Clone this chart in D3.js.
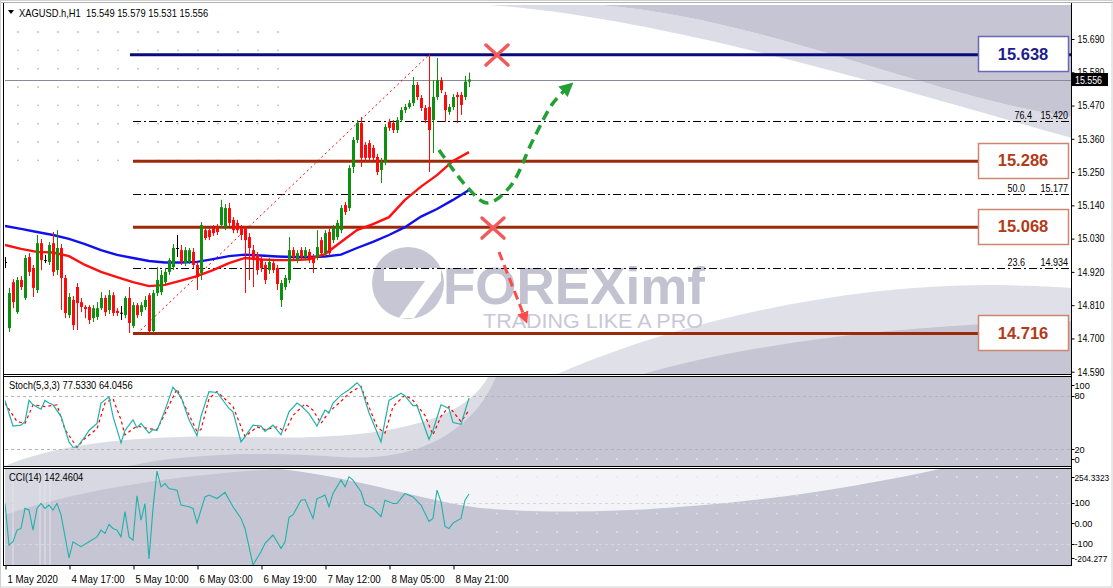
<!DOCTYPE html>
<html><head><meta charset="utf-8">
<script src="https://cdn.jsdelivr.net/npm/d3@7"></script>
<style>body{margin:0;background:#fff;}svg{display:block;font-family:"Liberation Sans",Arial,sans-serif;}</style>
</head><body><svg id="c" width="1113" height="588"></svg>
<script>
// ---------- DATA ----------
const symbolTitle = "XAGUSD.h,H1  15.549 15.579 15.531 15.556";
const barOpen = [14.953,14.734,14.886,14.787,14.893,14.834,14.969,14.933,14.860,15.015,
14.959,14.953,15.015,14.926,14.999,14.900,14.777,14.827,14.870,14.820,
14.804,14.804,14.767,14.771,14.800,14.834,14.794,14.843,14.791,14.784,
14.777,14.834,14.741,14.810,14.787,14.804,14.843,14.724,14.850,14.853,
14.886,14.920,14.936,14.999,14.992,14.949,14.953,14.986,14.943,14.916,
15.058,15.058,15.065,15.068,15.075,15.068,15.131,15.092,15.082,15.065,
15.065,15.035,14.992,14.976,14.959,14.943,14.926,14.949,14.933,14.827,
14.870,14.893,14.992,14.959,14.992,14.969,14.986,14.969,14.969,15.025,
14.982,15.052,15.025,15.035,15.058,15.141,15.131,15.267,15.356,15.412,
15.340,15.346,15.330,15.300,15.257,15.283,15.416,15.412,15.389,15.422,
15.455,15.465,15.478,15.538,15.495,15.462,15.465,15.422,15.498,15.554,
15.505,15.449,15.465,15.505,15.505,15.498,15.549];
const barHigh = [14.969,14.867,14.896,14.903,14.906,14.976,14.982,14.943,15.042,15.029,
14.976,15.019,15.052,15.058,15.012,14.910,14.850,14.840,14.883,14.834,
14.810,14.810,14.810,14.820,14.853,14.843,14.860,14.853,14.800,14.807,
14.840,14.870,14.820,14.817,14.820,14.840,14.850,14.860,14.936,14.926,
14.933,14.966,15.012,15.042,15.009,15.002,14.999,14.999,14.953,15.085,
15.072,15.065,15.075,15.078,15.158,15.144,15.148,15.101,15.092,15.075,
15.072,15.048,15.009,14.986,14.972,14.953,14.966,14.959,14.943,14.893,
14.910,15.035,15.002,14.992,15.002,15.002,14.996,14.979,15.058,15.035,
15.058,15.062,15.075,15.092,15.141,15.151,15.273,15.366,15.422,15.432,
15.349,15.356,15.340,15.310,15.297,15.409,15.426,15.422,15.432,15.465,
15.475,15.488,15.564,15.548,15.505,15.472,15.638,15.554,15.627,15.564,
15.515,15.475,15.508,15.515,15.515,15.568,15.579];
const barLow = [14.933,14.721,14.800,14.781,14.860,14.827,14.906,14.837,14.850,14.926,
14.949,14.943,14.906,14.910,14.794,14.767,14.767,14.728,14.728,14.787,
14.767,14.748,14.754,14.761,14.794,14.774,14.781,14.774,14.774,14.761,
14.767,14.718,14.734,14.767,14.774,14.794,14.716,14.718,14.840,14.843,
14.880,14.910,14.926,14.969,14.943,14.939,14.946,14.933,14.860,14.893,
15.025,15.025,15.039,15.042,15.065,15.058,15.072,15.048,15.048,15.025,
14.850,14.893,14.870,14.910,14.920,14.880,14.913,14.916,14.860,14.804,
14.860,14.883,14.959,14.949,14.959,14.959,14.949,14.916,14.959,14.972,
14.972,14.972,15.015,15.025,15.048,15.108,15.121,15.247,15.346,15.267,
15.283,15.283,15.287,15.240,15.214,15.273,15.386,15.379,15.379,15.416,
15.445,15.459,15.468,15.488,15.452,15.412,15.250,15.313,15.488,15.511,
15.416,15.439,15.455,15.412,15.439,15.488,15.531];
const barClose = [14.953,14.850,14.820,14.893,14.870,14.966,14.920,14.867,15.015,14.959,
14.958,15.009,14.920,14.999,14.900,14.784,14.837,14.744,14.817,14.804,
14.797,14.761,14.800,14.800,14.834,14.787,14.843,14.784,14.784,14.785,
14.834,14.751,14.810,14.777,14.810,14.827,14.724,14.850,14.893,14.910,
14.920,14.959,14.999,14.998,14.953,14.992,14.992,14.943,14.903,15.075,
15.032,15.035,15.048,15.052,15.134,15.131,15.082,15.058,15.058,15.042,
15.025,14.999,14.959,14.926,14.933,14.893,14.953,14.926,14.880,14.883,
14.900,14.992,14.969,14.982,14.969,14.992,14.959,14.949,15.002,14.982,
15.048,14.982,15.065,15.082,15.131,15.118,15.263,15.356,15.412,15.297,
15.297,15.297,15.297,15.250,15.283,15.399,15.396,15.389,15.422,15.455,
15.465,15.478,15.538,15.498,15.462,15.422,15.389,15.498,15.554,15.521,
15.455,15.465,15.498,15.498,15.472,15.549,15.556];

const maIdx = [0,4,8,12,16,20,24,28,32,36,40,44,48,52,56,60,64,68,72,76,80,84,88,92,96,100,104,108,112,116];
const maFast = [15.009,14.996,14.986,14.984,14.972,14.943,14.920,14.903,14.886,14.873,14.877,14.891,14.906,14.926,14.949,14.966,14.961,14.959,14.959,14.962,14.979,15.019,15.058,15.078,15.101,15.158,15.202,15.240,15.287,15.316];
const maSlow = [15.072,15.062,15.052,15.042,15.029,15.012,14.992,14.976,14.966,14.956,14.951,14.951,14.953,14.962,14.972,14.977,14.974,14.971,14.969,14.969,14.971,14.977,14.999,15.019,15.042,15.068,15.103,15.128,15.158,15.191];

const stochKIdx = [0,2,4,5,6,7,9,10,11,12,14,16,17,18,20,21,23,24,26,27,29,30,32,33,34,36,37,38,40,42,44,46,48,49,51,53,56,57,59,60,62,64,65,67,69,71,73,74,76,78,80,81,82,84,86,88,89,91,94,96,99,100,102,103,106,107,109,111,112,114,116];
const stochK = [75,46,47,51,75,70,65,75,72,70,57,28,22,22,34,41,49,72,79,57,27,41,53,44,49,38,42,41,64,90,79,53,35,57,85,84,66,62,28,34,47,46,40,47,36,62,72,69,60,46,64,61,72,81,87,95,90,61,28,75,83,80,69,69,31,41,70,66,50,48,77.533];
const stochDIdx = [0,3,5,7,10,13,15,18,20,23,25,27,29,30,33,36,38,40,43,45,48,49,51,53,57,60,63,65,68,70,72,75,77,79,81,84,86,89,90,93,95,97,100,102,105,107,109,111,114,116];
const stochD = [72,51,49,70,68,70,42,22,32,43,72,77,53,36,46,43,42,60,88,68,40,42,77,85,68,34,45,42,45,40,58,71,64,49,62,74,83,91,79,45,38,68,81,75,58,36,57,68,51,64.046];
const stochLevels = [80,20];
const stochTicks = [100,80,20,0];

const cciIdx = [0,1,2,3,4,5,6,7,8,9,10,11,12,13,14,16,17,19,21,23,24,25,26,27,28,29,30,31,32,33,34,35,36,37,38,39,40,41,43,44,46,47,48,50,51,53,55,57,59,60,62,64,65,67,69,70,71,72,74,75,77,78,79,80,81,82,84,85,86,87,89,90,92,94,95,97,98,100,102,104,106,107,108,109,110,111,112,114,115,116];
const cciVal = [96,-107,-91,-34,-26,72,64,-34,72,96,72,88,64,96,40,-170,-91,-115,-91,-67,-34,-50,-6,-26,-34,-67,56,-67,-83,133,15,96,-175,72,254,177,193,169,161,88,80,72,0,128,137,120,150,80,23,-26,-204,-140,-99,-58,-123,-91,28,40,112,115,23,120,128,137,80,145,210,177,226,210,153,92,72,32,112,96,96,145,128,88,8,23,161,104,-16,-26,0,23,112,142.46];
const cciLevels = [100,-100];
const cciTicks = [254.3323,100,0,-100,-204.277];
const cciTickLabels = ["254.3323","100","0.00","-100","-204.277"];

const priceTicks = [15.690,15.580,15.470,15.360,15.250,15.140,15.030,14.920,14.810,14.700,14.590];
const timeTickIdx = [0,16,32,48,64,80,96,112];
const timeLabels = ["1 May 2020","4 May 17:00","5 May 10:00","6 May 03:00","6 May 19:00","7 May 12:00","8 May 05:00","8 May 21:00"];

const currentPrice = 15.556;
const resistHigh = 15.638;
const levelLines = [15.286, 15.068, 14.716];
const fibLow = 14.716, fibHigh = 15.638;
const fibRatios = [76.4, 50.0, 23.6];
const fibLabels = ["15.420","15.177","14.934"];
const fibStartIdx = 33, fibEndIdx = 106, lineStartIdx = 32;
// annotations (bar index, price)
const greenPathIdx = [108.5,115.5,120.5,126.2,132,137,140.8];
const greenPathPx = [15.323,15.201,15.148,15.201,15.356,15.478,15.531];
const redArrowIdx = [123.5,130];
const redArrowPx = [14.986,14.767];
const crossIdx = [123,122];
const crossPx = [15.637,15.065];

// ---------- LAYOUT ----------
const svg = d3.select('#c');
const L = 5, R = 1071;
const P = {main:[5,374], st:[377,466], cci:[469,565]};
const x = d3.scaleLinear().domain([0,116]).range([5,469]);
const y = d3.scaleLinear().domain([14.590,15.690]).range([371.7,39]);
const yS = d3.scaleLinear().domain([0,100]).range([466.7,378.3]);
const yC = d3.scaleLinear().domain([-204.277,254.3323]).range([565,471]);

function condense(sel,f){sel.each(function(){const w=this.getComputedTextLength();if(w>0){d3.select(this).attr('textLength',w*f).attr('lengthAdjust','spacingAndGlyphs');}});}

const defs = svg.append('defs');
function clip(id,y0,y1){defs.append('clipPath').attr('id',id).append('rect').attr('x',L).attr('y',y0).attr('width',R-L).attr('height',y1-y0);}
clip('cm',P.main[0],P.main[1]); clip('cs',P.st[0],P.st[1]); clip('cc',P.cci[0],P.cci[1]);
function mk(id,color){defs.append('marker').attr('id',id).attr('viewBox','0 0 10 10').attr('refX',5).attr('refY',5)
 .attr('markerWidth',4).attr('markerHeight',4).attr('orient','auto').attr('markerUnits','strokeWidth')
 .append('path').attr('d','M0,0 L10,5 L0,10 Z').attr('fill',color);}
mk('ag','#22a033'); mk('ar','#ff4a4a');

// ---------- BACKGROUNDS ----------
const gMainBg = svg.append('g').attr('clip-path','url(#cm)');
gMainBg.append('path').attr('d','M 470 4 C 650 12 900 90 1072 138 L 1072 117 C 930 98 760 14 585 4 Z').attr('fill','#dcdce6');
gMainBg.append('path').attr('d','M 585 4 C 760 14 930 98 1072 117 L 1072 4 Z').attr('fill','#c5c5d3');
gMainBg.append('path').attr('d','M 555 375 C 680 320 850 283 1000 285 C 1040 286 1060 287 1072 288 L 1072 375 Z').attr('fill','#e0e0e8');
gMainBg.append('path').attr('d','M 640 375 C 760 340 920 324 1072 321 L 1072 375 Z').attr('fill','#c5c5d3');
for(let r=0;r<8;r++){for(let c=0;c<14;c++){gMainBg.append('circle').attr('cx',18+c*20).attr('cy',32+r*18.33).attr('r',0.9).attr('fill','#bdbdc2');}}

const gStBg = svg.append('g').attr('clip-path','url(#cs)');
gStBg.append('path').attr('d','M 5 466 C 60 442 150 434 250 437 C 350 440 430 430 468 400 C 478 392 484 384 488 377 L 1072 377 L 1072 467 Z').attr('fill','#dcdce4');
gStBg.append('path').attr('d','M 125 467 C 180 454 260 451 340 457 C 400 461 445 445 476 410 C 486 398 492 386 496 377 L 1072 377 L 1072 467 Z').attr('fill','#c5c5d3');
for(let c=0;c<29;c++){gStBg.append('circle').attr('cx',497+c*20).attr('cy',459).attr('r',0.9).attr('fill','#e6e6ee');}

const gCBg = svg.append('g').attr('clip-path','url(#cc)');
gCBg.append('rect').attr('x',L).attr('y',469).attr('width',R-L).attr('height',97).attr('fill','#c5c5d3');
gCBg.append('path').attr('d','M 5 469 L 5 515 C 60 495 160 475 280 469 Z').attr('fill','#d8d8e2');
gCBg.append('path').attr('d','M 280 469 C 360 478 420 500 480 508 C 620 520 800 500 940 469 Z').attr('fill','#f4f4f8');
[13,40,45,50].forEach(v=>gCBg.append('line').attr('x1',v).attr('x2',v).attr('y1',469).attr('y2',566).attr('stroke','#e4e4ec').attr('stroke-width',1));
for(let r=0;r<5;r++){for(let c=0;c<29;c++){gCBg.append('circle').attr('cx',497+c*20).attr('cy',477+r*18.3).attr('r',0.9).attr('fill','#e6e6ee');}}

// logo watermark
const gLogo = svg.append('g').attr('clip-path','url(#cm)');
gLogo.append('circle').attr('cx',408).attr('cy',283).attr('r',36).attr('fill','#c6c6d4');
gLogo.append('path').attr('d','M 384 268 L 441 268 L 441 281 L 414 318 L 399 318 L 425 281 L 384 281 Z').attr('fill','#ffffff');
gLogo.append('text').attr('x',443).attr('y',304).attr('font-size',52).attr('font-weight','bold').attr('fill','#c2c2d0')
 .attr('textLength',262).attr('lengthAdjust','spacingAndGlyphs').text('FOREXimf');
gLogo.append('text').attr('x',483).attr('y',328).attr('font-size',21).attr('fill','#c8c8d8')
 .attr('textLength',220).attr('lengthAdjust','spacingAndGlyphs').text('TRADING LIKE A PRO');

// ---------- MAIN PANEL ----------
const gM = svg.append('g').attr('clip-path','url(#cm)');
const crisp = v => Math.round(v)+0.5;
gM.append('line').attr('x1',L).attr('x2',R).attr('y1',crisp(y(currentPrice))).attr('y2',crisp(y(currentPrice))).attr('stroke','#8a8a98').attr('stroke-width',1);

fibRatios.forEach((r,k)=>{
  const p = fibLow + (fibHigh-fibLow)*r/100;
  const yy = crisp(y(p));
  gM.append('line').attr('x1',x(lineStartIdx)).attr('x2',R).attr('y1',yy).attr('y2',yy).attr('stroke','#000').attr('stroke-width',1).attr('stroke-dasharray','8,3,2,3');
  gM.append('text').attr('class','sm').attr('x',r===76.4?1032:1025).attr('y',yy-3).attr('text-anchor','end').attr('font-size',10).text(r.toFixed(1));
  gM.append('text').attr('class','sm').attr('x',1068).attr('y',yy-3).attr('text-anchor','end').attr('font-size',10).text(fibLabels[k]);
});
gM.append('line').attr('x1',x(fibStartIdx)).attr('y1',y(fibLow)).attr('x2',x(fibEndIdx)).attr('y2',y(fibHigh))
 .attr('stroke','#ff0000').attr('stroke-width',1).attr('stroke-dasharray','2,3');

gM.append('line').attr('x1',x(lineStartIdx)-3).attr('x2',1072).attr('y1',y(resistHigh)).attr('y2',y(resistHigh)).attr('stroke','#0a0a80').attr('stroke-width',3);
levelLines.forEach(p=>gM.append('line').attr('x1',x(lineStartIdx)).attr('x2',980).attr('y1',y(p)).attr('y2',y(p)).attr('stroke','#9c2a0a').attr('stroke-width',3));

const lineMA = d3.line().x((d,i)=>x(maIdx[i])).y(d=>y(d));
gM.append('path').attr('d',lineMA(maSlow)).attr('fill','none').attr('stroke','#1010ee').attr('stroke-width',2.4);
gM.append('path').attr('d',lineMA(maFast)).attr('fill','none').attr('stroke','#ff1010').attr('stroke-width',2.4);

const bars = d3.range(barOpen.length).map(i=>({i,o:barOpen[i],h:barHigh[i],l:barLow[i],c:barClose[i]}));
const col = d => Math.abs(d.c-d.o)<0.0015 ? '#000000' : (d.c>d.o ? '#0e8f0e' : '#ff0a0a');
const gC = gM.append('g');
gC.selectAll('line.w').data(bars).join('line').attr('class','w')
 .attr('x1',d=>Math.round(x(d.i))+0.5).attr('x2',d=>Math.round(x(d.i))+0.5)
 .attr('y1',d=>y(d.h)).attr('y2',d=>y(d.l)).attr('stroke',col).attr('stroke-width',1);
gC.selectAll('rect.b').data(bars).join('rect').attr('class','b')
 .attr('x',d=>Math.round(x(d.i))-1).attr('width',3)
 .attr('y',d=>y(Math.max(d.o,d.c))).attr('height',d=>Math.max(1,Math.abs(y(d.o)-y(d.c))))
 .attr('fill',col);

const gA = gM.append('g');
const gLine = d3.line().x((d,i)=>x(greenPathIdx[i])).y(d=>y(d)).curve(d3.curveCatmullRom.alpha(0.5));
gA.append('path').attr('d',gLine(greenPathPx)).attr('fill','none').attr('stroke','#22a033').attr('stroke-width',3.5)
 .attr('stroke-dasharray','10,6').attr('marker-end','url(#ag)');
gA.append('line').attr('x1',x(redArrowIdx[0])).attr('y1',y(redArrowPx[0])).attr('x2',x(redArrowIdx[1])).attr('y2',y(redArrowPx[1]))
 .attr('stroke','#ff4a4a').attr('stroke-width',3).attr('stroke-dasharray','9,5').attr('marker-end','url(#ar)');
crossIdx.forEach((ci,k)=>{
  const cx=x(ci), cy=y(crossPx[k]);
  [[-11,-10,11,10],[-11,10,11,-10]].forEach(s=>gA.append('line').attr('x1',cx+s[0]).attr('y1',cy+s[1]).attr('x2',cx+s[2]).attr('y2',cy+s[3])
   .attr('stroke','#f25a5a').attr('stroke-width',3.5).attr('stroke-linecap','round'));
});

const boxes = [{p:resistHigh,stroke:'#6a6ab4',fill:'#1c1c8c'}].concat(levelLines.map(p=>({p,stroke:'#cc8672',fill:'#b23a18'})));
boxes.forEach(b=>{
  const cy = y(b.p)-1;
  svg.append('rect').attr('x',978.5).attr('y',Math.round(cy-17.5)+0.5).attr('width',90).attr('height',35)
   .attr('fill','#ffffff').attr('stroke',b.stroke).attr('stroke-width',1.5);
  svg.append('text').attr('x',1023).attr('y',cy+6).attr('text-anchor','middle').attr('font-size',16.5).attr('font-weight','bold')
   .attr('fill',b.fill).text(b.p.toFixed(3));
});

// header
svg.append('path').attr('d','M 8 10 L 14 10 L 11 14 Z').attr('fill','#000');
svg.append('text').attr('class','hd').attr('x',19).attr('y',17).attr('font-size',10.5).attr('xml:space','preserve').style('white-space','pre').text(symbolTitle);

// ---------- STOCH ----------
const gS = svg.append('g').attr('clip-path','url(#cs)');
stochLevels.forEach(v=>gS.append('line').attr('x1',L).attr('x2',R).attr('y1',crisp(yS(v))).attr('y2',crisp(yS(v))).attr('stroke','#b4b4b4').attr('stroke-dasharray','3,3'));
gS.append('path').attr('d',d3.line().x((d,i)=>x(stochDIdx[i])).y(d=>yS(d))(stochD)).attr('fill','none').attr('stroke','#ff0000').attr('stroke-width',1.2).attr('stroke-dasharray','3,3');
gS.append('path').attr('d',d3.line().x((d,i)=>x(stochKIdx[i])).y(d=>yS(d))(stochK)).attr('fill','none').attr('stroke','#20b2aa').attr('stroke-width',1.2);
svg.append('text').attr('class','hd').attr('x',9).attr('y',389).attr('font-size',10.5).text('Stoch(5,3,3) 77.5330 64.0456');

// ---------- CCI ----------
const gCC = svg.append('g').attr('clip-path','url(#cc)');
cciLevels.forEach(v=>gCC.append('line').attr('x1',L).attr('x2',R).attr('y1',crisp(yC(v))).attr('y2',crisp(yC(v))).attr('stroke','#d6d6dc').attr('stroke-dasharray','3,3'));
gCC.append('path').attr('d',d3.line().x((d,i)=>x(cciIdx[i])).y(d=>yC(d))(cciVal)).attr('fill','none').attr('stroke','#20b2aa').attr('stroke-width',1.1);
svg.append('text').attr('class','hd').attr('x',9).attr('y',481).attr('font-size',10.5).text('CCI(14) 142.4604');

// ---------- FRAMES ----------
const fr = svg.append('g').attr('fill','none').attr('stroke','#000').attr('stroke-width',1);
fr.append('line').attr('x1',0).attr('x2',1113).attr('y1',2.5).attr('y2',2.5).attr('stroke','#b0b0b0');
fr.append('line').attr('x1',3.5).attr('x2',3.5).attr('y1',3).attr('y2',566);
[374.5,376.5,466.5,468.5,565.5].forEach(v=>fr.append('line').attr('x1',3.5).attr('x2',R+0.5).attr('y1',v).attr('y2',v));
fr.append('line').attr('x1',R+0.5).attr('x2',R+0.5).attr('y1',3).attr('y2',566);
fr.append('rect').attr('x',0.5).attr('y',0.5).attr('width',1111.5).attr('height',586.5).attr('stroke','#d0d0d0');

// ---------- AXES ----------
const ax = svg.append('g').attr('transform',`translate(${R+0.5},0)`)
 .call(d3.axisRight(y).tickValues(priceTicks).tickFormat(d3.format('.3f')).tickSize(3).tickPadding(3));
ax.select('.domain').remove();
ax.selectAll('text').attr('class','ax').attr('font-size',10.5).attr('font-family','Liberation Sans, Arial, sans-serif').attr('fill','#000');
ax.selectAll('line').attr('stroke','#000');
const cpY = y(currentPrice);
svg.append('rect').attr('x',R+1).attr('y',cpY-6.5).attr('width',36).attr('height',13).attr('fill','#000');
svg.append('text').attr('class','ax').attr('x',R+4).attr('y',cpY+4).attr('font-size',10.5).attr('fill','#fff').text(currentPrice.toFixed(3));

function sideLabels(vals,labels,sc,y0,y1){
  vals.forEach((v,k)=>{
    const ty = Math.max(y0+8,Math.min(y1-7,sc(v)));
    const lbl = labels[k];
    svg.append('line').attr('x1',R+0.5).attr('x2',R+3.5).attr('y1',Math.round(ty)+0.5).attr('y2',Math.round(ty)+0.5).attr('stroke','#000');
    svg.append('text').attr('x',R+3.5).attr('y',ty+3.5).attr('font-size',lbl.length>6?8.3:9.2).text(lbl);
  });
}
sideLabels(stochTicks,stochTicks.map(String),yS,P.st[0],P.st[1]);
sideLabels(cciTicks,cciTickLabels,yC,P.cci[0],P.cci[1]);

const axB = svg.append('g').attr('transform','translate(0,565.5)')
 .call(d3.axisBottom(x).tickValues(timeTickIdx).tickFormat((d,i)=>timeLabels[i]).tickSize(4).tickPadding(4));
axB.select('.domain').remove();
axB.selectAll('line').attr('stroke','#000').attr('transform','translate(0.5,0)');
axB.selectAll('text').attr('class','bt').attr('font-size',10.5).attr('font-family','Liberation Sans, Arial, sans-serif').attr('fill','#000')
 .attr('text-anchor','start').attr('x',2).attr('dy','0.9em');

condense(svg.selectAll('text.ax'),0.84);
condense(svg.selectAll('text.hd'),0.89);
condense(svg.selectAll('text.bt'),0.92);
condense(svg.selectAll('text.sm'),0.9);
</script></body></html>
